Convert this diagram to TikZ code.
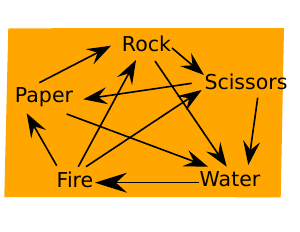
\documentclass[tikz,border=0pt]{standalone}
\usepackage{fontspec}
\setmainfont{DejaVu Sans}
\usetikzlibrary{arrows.meta}
\definecolor{bgorange}{RGB}{255,166,0}
\tikzset{
  word/.style={font=\fontsize{20.5}{24}\selectfont, inner sep=0pt, anchor=base},
  beats/.style={draw=black, line width=1.6pt, -{Stealth[length=24pt,width=17pt,inset=9pt]}},
  bigbeats/.style={draw=black, line width=1.6pt, -{Stealth[length=32pt,width=20pt,inset=11pt]}}
}
\begin{document}
\begin{tikzpicture}[x=1pt,y=-1pt]
\useasboundingbox (0,0) rectangle (300,232);
\fill[white] (0,0) rectangle (300,232);
\fill[bgorange] (8.3,28.3) -- (284,28) -- (280.7,197.3) -- (4.3,197) -- cycle;
\node[word] (rock) at (146.5,52) {Rock};
\node[word] (scissors) at (246,90) {Scissors};
\node[word] (paper) at (44,103) {Paper};
\node[word] (fire) at (75,188) {Fire};
\node[word] (water) at (230,187) {Water};
% Paper -> Rock
\draw[beats] ([xshift=-4.7pt,yshift=20.3pt]paper.base) -- ([xshift=-35.5pt,yshift=6.3pt]rock.base);
% Rock -> Scissors
\draw[beats] ([xshift=25.5pt,yshift=4pt]rock.base) -- ([xshift=-42pt,yshift=15pt]scissors.base);
% Scissors -> Paper
\draw[beats] ([xshift=-54.3pt,yshift=6.7pt]scissors.base) -- ([xshift=39.3pt,yshift=3.7pt]paper.base);
% Rock -> Water
\draw[beats] ([xshift=8.5pt,yshift=-9pt]rock.base) -- ([xshift=-3.3pt,yshift=20.3pt]water.base);
% Scissors -> Water
\draw[beats] ([xshift=11.7pt,yshift=-7.7pt]scissors.base) -- ([xshift=18.3pt,yshift=22pt]water.base);
% Paper -> Water
\draw[beats] ([xshift=22.7pt,yshift=-11pt]paper.base) -- ([xshift=-22pt,yshift=20.3pt]water.base);
% Fire -> Paper
\draw[beats] ([xshift=-18.3pt,yshift=22.3pt]fire.base) -- ([xshift=-17.3pt,yshift=-10.3pt]paper.base);
% Fire -> Rock
\draw[beats] ([xshift=3.3pt,yshift=21.3pt]fire.base) -- ([xshift=-10.5pt,yshift=-8pt]rock.base);
% Fire -> Scissors
\draw[beats] ([xshift=11pt,yshift=21.3pt]fire.base) -- ([xshift=-44.3pt,yshift=0pt]scissors.base);
% Water -> Fire
\draw[bigbeats] ([xshift=-31pt,yshift=4.3pt]water.base) -- ([xshift=20pt,yshift=5.3pt]fire.base);
\end{tikzpicture}
\end{document}
